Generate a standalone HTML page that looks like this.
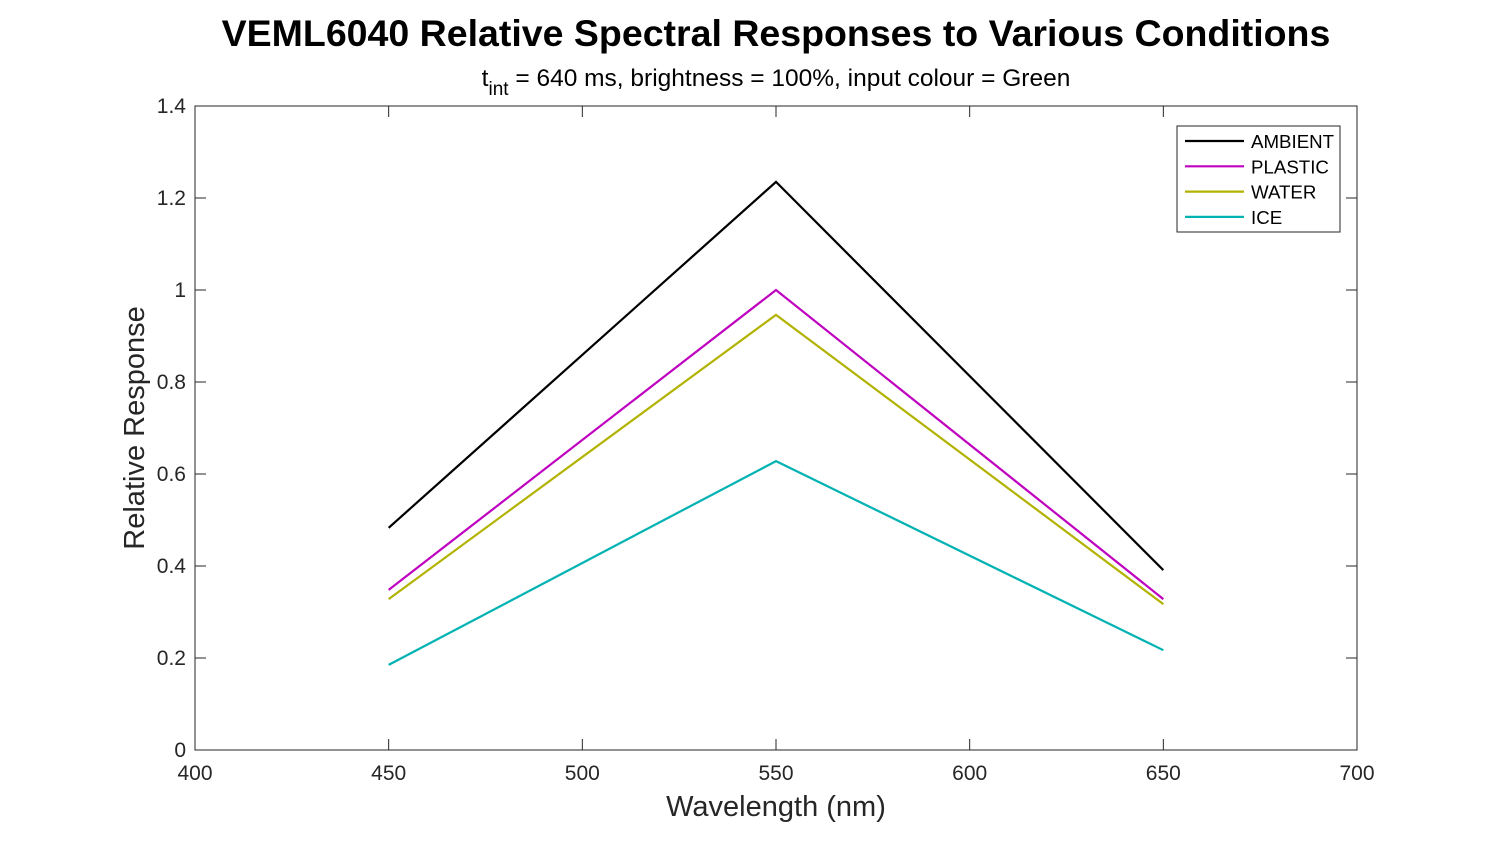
<!DOCTYPE html>
<html><head><meta charset="utf-8"><style>
body{margin:0;background:#fff;}
svg{display:block;font-family:"Liberation Sans",Arial,sans-serif;}
</style></head><body>
<svg id="chart" width="1500" height="844">
<rect width="1500" height="844" fill="#fff"/>
<text x="776" y="46" text-anchor="middle" font-size="37.5" font-weight="bold" fill="#000">VEML6040 Relative Spectral Responses to Various Conditions</text>
<text x="776" y="86" text-anchor="middle" font-size="24.5" fill="#000">t<tspan font-size="19" dy="9">int</tspan><tspan dy="-9"> = 640 ms, brightness = 100%, input colour = Green</tspan></text>
<g id="axes"></g>
<g id="series"></g>
<text x="776" y="816" text-anchor="middle" font-size="29" fill="#262626">Wavelength (nm)</text>
<text transform="translate(144,428) rotate(-90)" text-anchor="middle" font-size="29" fill="#262626">Relative Response</text>
<g id="legend"></g>
</svg>
<script>
const categories=[450,550,650];
const seriesNames=["AMBIENT","PLASTIC","WATER","ICE"];
const ambient=[0.483,1.235,0.391];
const plastic=[0.348,1.0,0.328];
const water=[0.328,0.946,0.317];
const ice=[0.185,0.628,0.217];
const xTicks=[400,450,500,550,600,650,700];
const yTicks=[0,0.2,0.4,0.6,0.8,1,1.2,1.4];
const colors=["#000000","#bf00bf","#b2b200","#00b2b2"];
const allSeries=[ambient,plastic,water,ice];
const L=195,R=1357,T=106,B=750;
const xs=v=>L+(v-400)/300*(R-L);
const ys=v=>B-(v/1.4)*(B-T);
const NS="http://www.w3.org/2000/svg";
function mk(tag,attrs,parent){const e=document.createElementNS(NS,tag);for(const k in attrs)e.setAttribute(k,attrs[k]);parent.appendChild(e);return e;}
const ax=document.getElementById('axes');
const box=mk('rect',{x:L,y:T,width:R-L,height:B-T,fill:'none',stroke:'#262626','stroke-width':1},ax);


xTicks.forEach(t=>{const x=xs(t);
mk('line',{x1:x,x2:x,y1:B,y2:B-11,stroke:'#262626'},ax);
mk('line',{x1:x,x2:x,y1:T,y2:T+11,stroke:'#262626'},ax);
const tx=mk('text',{x:x,y:B+30,'text-anchor':'middle','font-size':21,fill:'#262626'},ax);tx.textContent=t;

});
yTicks.forEach(t=>{const y=ys(t);
mk('line',{x1:L,x2:L+11,y1:y,y2:y,stroke:'#262626'},ax);
mk('line',{x1:R,x2:R-11,y1:y,y2:y,stroke:'#262626'},ax);
const tx=mk('text',{x:L-9,y:y+7,'text-anchor':'end','font-size':21,fill:'#262626'},ax);tx.textContent=t;

});
const sg=document.getElementById('series');
allSeries.forEach((s,i)=>{const pts=s.map((v,j)=>xs(categories[j])+','+ys(v)).join(' ');
const pl=mk('polyline',{points:pts,fill:'none',stroke:colors[i],'stroke-width':2.2},sg);

});
const lg=document.getElementById('legend');
mk('rect',{x:1177,y:126,width:163,height:106,fill:'#fff',stroke:'#262626'},lg);
seriesNames.forEach((n,i)=>{const y=141+i*25.3;
mk('line',{x1:1185,x2:1244,y1:y,y2:y,stroke:colors[i],'stroke-width':2.2},lg);
const tx=mk('text',{x:1251,y:y+7,'font-size':18.7,fill:'#000'},lg);tx.textContent=n;

});
</script>
</body></html>
